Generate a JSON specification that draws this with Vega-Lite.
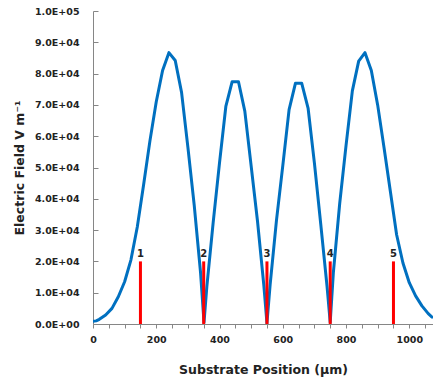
{
  "$schema": "https://vega.github.io/schema/vega-lite/v6.json",
  "width": 340,
  "height": 313,
  "autosize": {"type": "none"},
  "padding": {"left": 93, "top": 11, "right": 0, "bottom": 57},
  "background": "white",
  "config": {"view": {"stroke": null}, "font": "DejaVu Sans"},
  "datasets": {
    "field": [
      {"pos": 0, "value": 900}, {"pos": 10, "value": 1000}, {"pos": 20, "value": 1500},
      {"pos": 40, "value": 2900}, {"pos": 60, "value": 5000}, {"pos": 80, "value": 8700},
      {"pos": 100, "value": 13500}, {"pos": 120, "value": 20500}, {"pos": 140, "value": 31000},
      {"pos": 160, "value": 44500}, {"pos": 180, "value": 58500}, {"pos": 200, "value": 71000},
      {"pos": 220, "value": 81000}, {"pos": 240, "value": 86700}, {"pos": 260, "value": 84200},
      {"pos": 280, "value": 74000}, {"pos": 300, "value": 56500}, {"pos": 320, "value": 38000},
      {"pos": 340, "value": 16500}, {"pos": 351, "value": 500}, {"pos": 360, "value": 12000},
      {"pos": 380, "value": 32500}, {"pos": 400, "value": 51500}, {"pos": 420, "value": 69500},
      {"pos": 440, "value": 77400}, {"pos": 460, "value": 77400}, {"pos": 480, "value": 68000},
      {"pos": 500, "value": 50500}, {"pos": 520, "value": 33000}, {"pos": 540, "value": 12500},
      {"pos": 550, "value": 300}, {"pos": 560, "value": 12500}, {"pos": 580, "value": 33000},
      {"pos": 600, "value": 50500}, {"pos": 620, "value": 68500}, {"pos": 640, "value": 76900},
      {"pos": 660, "value": 76900}, {"pos": 680, "value": 69000}, {"pos": 700, "value": 51500},
      {"pos": 720, "value": 32000}, {"pos": 740, "value": 12000}, {"pos": 750, "value": 500},
      {"pos": 760, "value": 16500}, {"pos": 780, "value": 38500}, {"pos": 800, "value": 57000},
      {"pos": 820, "value": 74500}, {"pos": 840, "value": 84000}, {"pos": 860, "value": 86700},
      {"pos": 880, "value": 81000}, {"pos": 900, "value": 70000}, {"pos": 920, "value": 56500},
      {"pos": 940, "value": 42500}, {"pos": 960, "value": 28500}, {"pos": 980, "value": 19500},
      {"pos": 1000, "value": 13200}, {"pos": 1020, "value": 9000}, {"pos": 1040, "value": 5800},
      {"pos": 1060, "value": 3300}, {"pos": 1072, "value": 2200}
    ],
    "markers": [
      {"pos": 150, "value": 20000, "label": "1"},
      {"pos": 350, "value": 20000, "label": "2"},
      {"pos": 550, "value": 20000, "label": "3"},
      {"pos": 750, "value": 20000, "label": "4"},
      {"pos": 950, "value": 20000, "label": "5"}
    ]
  },
  "encoding": {
    "x": {
      "field": "pos",
      "type": "quantitative",
      "scale": {"domain": [0, 1075], "nice": false, "zero": false},
      "axis": {
        "title": "Substrate Position (µm)",
        "values": [0, 50, 100, 150, 200, 250, 300, 350, 400, 450, 500, 550, 600, 650, 700, 750, 800, 850, 900, 950, 1000, 1050],
        "format": "d",
        "labelExpr": "datum.value % 200 == 0 ? datum.label : ''",
        "grid": false,
        "domainColor": "#868686",
        "tickColor": "#868686",
        "tickSize": 4,
        "labelFont": "DejaVu Sans",
        "labelFontWeight": "bold",
        "labelFontSize": 9.5,
        "labelColor": "#222222",
        "labelPadding": 6,
        "labelFlush": false,
        "titleFont": "DejaVu Sans",
        "titleFontWeight": "bold",
        "titleFontSize": 12.5,
        "titleColor": "#222222",
        "titlePadding": 20
      }
    },
    "y": {
      "field": "value",
      "type": "quantitative",
      "scale": {"domain": [0, 100000], "nice": false},
      "axis": {
        "title": "Electric Field V m⁻¹",
        "values": [0, 10000, 20000, 30000, 40000, 50000, 60000, 70000, 80000, 90000, 100000],
        "labelExpr": "datum.value == 0 ? '0.0E+00' : (datum.value >= 100000 ? '1.0E+05' : format(datum.value / 10000, '.1f') + 'E+04')",
        "grid": false,
        "domainColor": "#868686",
        "tickColor": "#868686",
        "tickSize": -5,
        "labelFont": "DejaVu Sans",
        "labelFontWeight": "bold",
        "labelFontSize": 9.5,
        "labelColor": "#222222",
        "labelPadding": 19,
        "titleFont": "DejaVu Sans",
        "titleFontWeight": "bold",
        "titleFontSize": 12.5,
        "titleColor": "#222222",
        "titlePadding": 8
      }
    }
  },
  "layer": [
    {
      "data": {"name": "field"},
      "mark": {"type": "line", "color": "#0070C0", "strokeWidth": 3, "strokeJoin": "round", "strokeCap": "round", "clip": true}
    },
    {
      "data": {"name": "markers"},
      "mark": {"type": "rule", "color": "#FF0000", "strokeWidth": 3},
      "encoding": {"y2": {"datum": 0}}
    },
    {
      "data": {"name": "markers"},
      "mark": {"type": "text", "font": "DejaVu Sans", "fontWeight": "bold", "fontSize": 10, "color": "#222222", "baseline": "bottom", "dy": -2},
      "encoding": {"text": {"field": "label"}}
    }
  ]
}
